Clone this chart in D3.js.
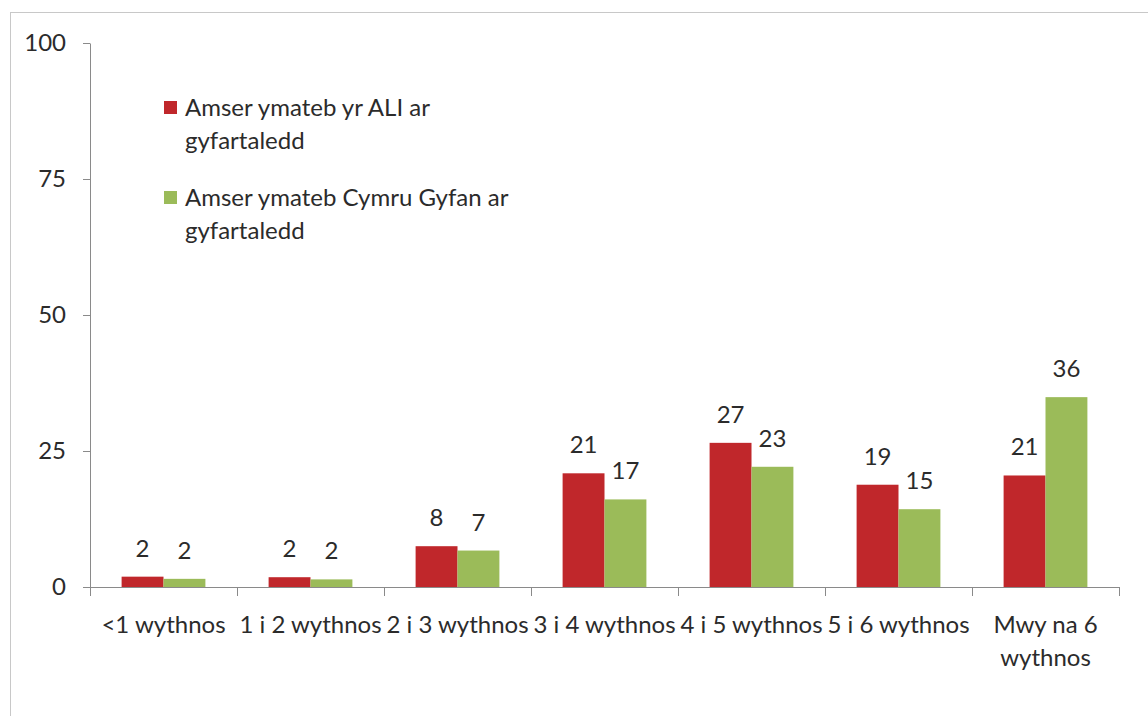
<!DOCTYPE html>
<html>
<head>
<meta charset="utf-8">
<script src="https://cdn.jsdelivr.net/npm/d3@7"></script>
<style>
  body { margin: 0; background: #fff; }
  text { font-family: Lato, "Open Sans", sans-serif; fill: #2b2b2b; }
</style>
</head>
<body>
<svg id="chart"></svg>
<script>
// data
const categories = ["<1 wythnos", "1 i 2 wythnos", "2 i 3 wythnos", "3 i 4 wythnos",
                    "4 i 5 wythnos", "5 i 6 wythnos", "Mwy na 6\nwythnos"];
const seriesNames = ["Amser ymateb yr ALI ar\ngyfartaledd",
                     "Amser ymateb Cymru Gyfan ar\ngyfartaledd"];
const aliValues   = [1.9, 1.8, 7.5, 20.9, 26.5, 18.8, 20.5];
const walesValues = [1.5, 1.4, 6.7, 16.1, 22.1, 14.3, 34.9];
const aliLabels   = ["2", "2", "8", "21", "27", "19", "21"];
const walesLabels = ["2", "2", "7", "17", "23", "15", "36"];
const yTicks = [0, 25, 50, 75, 100];

const colors = ["#c0272b", "#9bbb59"];

let width = 1148;
let height = 716;
let plot = { left: 90, right: 1119, top: 43, bottom: 587 };
let fontSize = "24px";

let svg = d3.select("#chart")
    .attr("width", width)
    .attr("height", height);

// outer frame
svg.append("rect")
    .attr("x", 10.5).attr("y", 12.5)
    .attr("width", 1160).attr("height", 760)
    .attr("fill", "none")
    .attr("stroke", "#c8c8c8");

let xScale = d3.scaleBand()
    .domain(categories)
    .range([plot.left, plot.right])
    .paddingInner(0.43)
    .paddingOuter(0.215);

let xSub = d3.scaleBand()
    .domain([0, 1])
    .range([0, xScale.bandwidth()]);

let yScale = d3.scaleLinear()
    .domain([0, 100])
    .range([plot.bottom, plot.top]);

// y axis
let yAxis = d3.axisLeft(yScale)
    .tickValues(yTicks)
    .tickSize(7)
    .tickSizeOuter(0)
    .tickPadding(17);

let gy = svg.append("g")
    .attr("transform", `translate(${plot.left},0)`)
    .call(yAxis);
gy.selectAll("path, line").attr("stroke", "#8a8a8a");
gy.selectAll("text").style("font-size", fontSize).attr("fill", "#2b2b2b");

// x axis: ticks between categories
let edgeScale = d3.scaleLinear()
    .domain([0, categories.length])
    .range([plot.left, plot.right]);

let gx = svg.append("g")
    .attr("transform", `translate(0,${plot.bottom})`)
    .call(d3.axisBottom(edgeScale)
        .ticks(categories.length)
        .tickFormat("")
        .tickSize(9)
        .tickSizeOuter(0));
gx.selectAll("path, line").attr("stroke", "#8a8a8a");

// category labels
let catLabels = svg.append("g").selectAll("text")
    .data(categories)
    .join("text")
    .attr("text-anchor", "middle")
    .attr("x", d => xScale(d) + xScale.bandwidth() / 2)
    .attr("y", 633)
    .style("font-size", fontSize);
catLabels.each(function(d) {
    let t = d3.select(this);
    d.split("\n").forEach((line, i) => {
        t.append("tspan")
            .attr("x", t.attr("x"))
            .attr("dy", i === 0 ? 0 : 33)
            .text(line);
    });
});

// bars
let series = [aliValues, walesValues];
let labels = [aliLabels, walesLabels];

series.forEach((vals, s) => {
    let g = svg.append("g");
    g.selectAll("rect")
        .data(vals)
        .join("rect")
        .attr("x", (d, i) => xScale(categories[i]) + xSub(s))
        .attr("y", d => yScale(d))
        .attr("width", xSub.bandwidth())
        .attr("height", d => yScale(0) - yScale(d))
        .attr("fill", colors[s]);

    g.selectAll("text")
        .data(vals)
        .join("text")
        .attr("text-anchor", "middle")
        .attr("x", (d, i) => xScale(categories[i]) + xSub(s) + xSub.bandwidth() / 2)
        .attr("y", d => yScale(d) - 20)
        .style("font-size", fontSize)
        .text((d, i) => labels[s][i]);
});

// legend
let legend = svg.append("g");
seriesNames.forEach((name, s) => {
    let y0 = 116 + s * 90;
    legend.append("rect")
        .attr("x", 164).attr("y", y0 - 15)
        .attr("width", 13).attr("height", 13)
        .attr("fill", colors[s]);
    let t = legend.append("text")
        .attr("x", 185).attr("y", y0)
        .style("font-size", fontSize);
    name.split("\n").forEach((line, i) => {
        t.append("tspan")
            .attr("x", 185)
            .attr("dy", i === 0 ? 0 : 33)
            .text(line);
    });
});
</script>
</body>
</html>
